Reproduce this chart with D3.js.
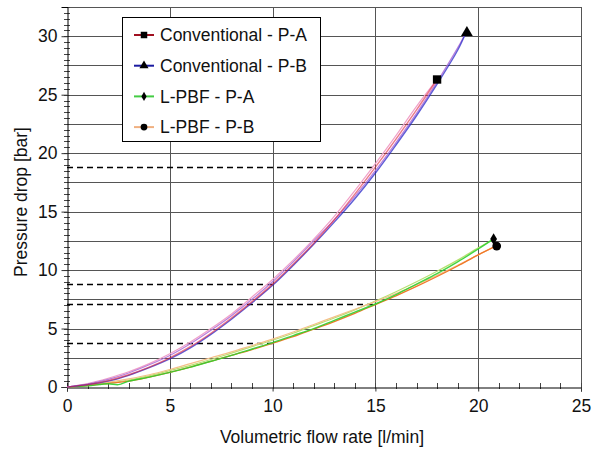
<!DOCTYPE html>
<html><head><meta charset="utf-8">
<script src="https://cdn.jsdelivr.net/npm/d3@7"></script>
<style>body{margin:0;background:#fff}svg{display:block;font-family:"Liberation Sans",Arial,sans-serif}</style>
</head><body><svg id="c" width="594" height="452"></svg>
<script>
// ---- data ----
const xTicks = [0,5,10,15,20,25];
const yTicks = [0,5,10,15,20,25,30];
const flowConvA = [0,1,2,3,4,5,6,7,8,9,10,11,12,13,14,15,16,17,18];
const convPA_up   = [0,0.2,0.55,1.05,1.7,2.5,3.45,4.6,5.9,7.3,8.8,10.5,12.3,14.3,16.5,18.8,21.2,23.7,26.3];
const convPA_down = [0,0.3,0.75,1.3,2.0,2.85,3.85,5.0,6.25,7.7,9.2,10.85,12.65,14.6,16.8,19.1,21.5,24.0,26.3];
const flowConvB = [0,1,2,3,4,5,6,7,8,9,10,11,12,13,14,15,16,17,18,19,19.4];
const convPB_up   = [0,0.2,0.5,1.0,1.65,2.4,3.35,4.5,5.8,7.2,8.7,10.4,12.2,14.1,16.1,18.3,20.7,23.2,25.9,28.8,30.3];
const convPB_down = [0,0.25,0.65,1.2,1.9,2.7,3.7,4.85,6.1,7.5,9.0,10.7,12.5,14.3,16.3,18.5,20.9,23.4,26.1,29.0,30.3];
const flowLA = [0,1,2,2.5,3,4,5,6,7,8,9,10,11,12,13,14,15,16,17,18,19,20,20.7];
const lpbfPA_up   = [0,0.1,0.28,0.2,0.5,0.85,1.25,1.7,2.2,2.7,3.25,3.8,4.4,5.0,5.7,6.4,7.1,7.9,8.8,9.7,10.7,11.8,12.6];
const lpbfPA_down = [0,0.15,0.35,0.45,0.6,0.95,1.4,1.85,2.35,2.9,3.45,4.0,4.6,5.25,5.9,6.6,7.35,8.15,9.0,9.9,10.85,11.9,12.6];
const flowLB = [0,1,2,3,4,5,6,7,8,9,10,11,12,13,14,15,16,17,18,19,20,20.8];
const lpbfPB_up   = [0,0.12,0.3,0.5,0.85,1.25,1.7,2.2,2.7,3.2,3.75,4.3,4.95,5.6,6.3,7.05,7.8,8.6,9.45,10.35,11.3,12.0];
const lpbfPB_down = [0,0.15,0.4,0.7,1.05,1.5,2.0,2.5,3.0,3.55,4.1,4.7,5.35,6.0,6.65,7.3,8.0,8.75,9.55,10.4,11.3,12.0];
const endPoints = [
  {name:"Conventional - P-A", x:18.0, y:26.3, sym:"square", color:"#a01020"},
  {name:"Conventional - P-B", x:19.45, y:30.3, sym:"triangle", color:"#1a1aa0"},
  {name:"L-PBF - P-A", x:20.75, y:12.65, sym:"diamond", color:"#44cc44"},
  {name:"L-PBF - P-B", x:20.9, y:12.05, sym:"circle", color:"#f0b080"}
];
const refLines = [ {y:18.8, x:15}, {y:8.8, x:10}, {y:7.1, x:15}, {y:3.8, x:10} ];

// ---- layout ----
const svg = d3.select("#c");
const L=67, R=581, T=7, B=387;
const x = d3.scaleLinear().domain([0,25]).range([L,R]);
const y = d3.scaleLinear().domain([0,32.5]).range([B,T]);
const px = v=>Math.round(v)+0.5;

// grid
const g = svg.append("g");
g.selectAll(".hg").data(d3.range(2.5,32.51,2.5)).join("line")
  .attr("x1",L).attr("x2",R).attr("y1",d=>px(y(d))).attr("y2",d=>px(y(d)))
  .attr("stroke","#555").attr("stroke-width",1);
g.selectAll(".vg").data(d3.range(5,25.1,5)).join("line")
  .attr("y1",T).attr("y2",B).attr("x1",d=>px(x(d))).attr("x2",d=>px(x(d)))
  .attr("stroke","#555").attr("stroke-width",1);

// minor ticks
g.selectAll(".ym").data(d3.range(0,32.51,0.5)).join("line")
  .attr("x1",L-3).attr("x2",L+3).attr("y1",d=>px(y(d))).attr("y2",d=>px(y(d)))
  .attr("stroke","#444");
g.selectAll(".xm").data(d3.range(0,25.01,1)).join("line")
  .attr("y1",B-4).attr("y2",B+2).attr("x1",d=>px(x(d))).attr("x2",d=>px(x(d)))
  .attr("stroke","#444");

// axes
const ax = svg.append("g").attr("transform",`translate(0,${B+0.5})`)
  .call(d3.axisBottom(x).tickValues(xTicks).tickSize(4).tickPadding(6));
const ay = svg.append("g").attr("transform",`translate(${L+0.5},0)`)
  .call(d3.axisLeft(y).tickValues(yTicks).tickSize(6).tickPadding(4));
[ax,ay].forEach(a=>{a.select(".domain").attr("stroke","#000");
  a.selectAll("text").attr("font-size",17.5).attr("fill","#111").attr("font-family","Liberation Sans, Arial, sans-serif");
  a.selectAll(".tick line").attr("stroke","#333");});
ax.selectAll("text").attr("dy","0.85em");

// dashed reference lines
svg.selectAll(".ref").data(refLines).join("line")
  .attr("x1",L).attr("x2",d=>x(d.x)).attr("y1",d=>px(y(d.y))).attr("y2",d=>px(y(d.y)))
  .attr("stroke","#000").attr("stroke-width",1.3).attr("stroke-dasharray","6,4");

// curves
const mk = (xs,ys)=>xs.map((v,i)=>[v,ys[i]]);
const line = d3.line().x(d=>x(d[0])).y(d=>y(d[1])).curve(d3.curveCatmullRom);
const strands = [
  {d:mk(flowLA,lpbfPA_down), c:"#b8e070", w:1.2, o:1},
  {d:mk(flowLB,lpbfPB_down), c:"#f4c08a", w:1.2, o:1},
  {d:mk(flowLB,lpbfPB_up), c:"#f07828", w:1.3, o:1},
  {d:mk(flowLA,lpbfPA_up), c:"#2ed02e", w:1.4, o:0.9},
  {d:mk(flowConvA,convPA_down), c:"#f0a0c8", w:1.2, o:1},
  {d:mk(flowConvB,convPB_down), c:"#b070d8", w:1.2, o:0.9},
  {d:mk(flowConvB,convPB_up), c:"#2828c8", w:1.4, o:0.75},
  {d:mk(flowConvA,convPA_up), c:"#e0203a", w:1.4, o:0.6}
];
svg.selectAll(".curve").data(strands).join("path")
  .attr("d",d=>line(d.d)).attr("fill","none").attr("stroke",d=>d.c)
  .attr("stroke-width",d=>d.w).attr("stroke-opacity",d=>d.o);

// markers
const symMap = {square:d3.symbolSquare, triangle:d3.symbolTriangle, diamond:d3.symbolDiamond, circle:d3.symbolCircle};
const symSize = {square:70, triangle:60, diamond:40, circle:60};
svg.selectAll(".endm").data(endPoints).join("path")
  .attr("transform",d=>`translate(${x(d.x)},${y(d.y)})`)
  .attr("d",d=>d3.symbol(symMap[d.sym],symSize[d.sym])()).attr("fill","#000");

// legend
const lg = svg.append("g");
lg.append("rect").attr("x",122.5).attr("y",17.5).attr("width",198).attr("height",124)
  .attr("fill","#fff").attr("stroke","#000").attr("stroke-width",1);
const items = lg.selectAll(".li").data(endPoints).join("g")
  .attr("transform",(d,i)=>`translate(0,${35+i*30.7})`);
items.append("line").attr("x1",134).attr("x2",154).attr("stroke",d=>d.color).attr("stroke-width",2);
items.append("path").attr("transform","translate(144,0)")
  .attr("d",d=>d3.symbol(symMap[d.sym],symSize[d.sym]*0.6)()).attr("fill","#000");
items.append("text").attr("x",160).attr("dy","0.35em").attr("font-size",17.5).attr("fill","#111")
  .text(d=>d.name);

// axis titles
svg.append("text").attr("x",(L+R)/2-2).attr("y",443).attr("text-anchor","middle")
  .attr("font-size",17.5).attr("fill","#111").text("Volumetric flow rate [l/min]");
svg.append("text").attr("transform",`translate(27,${(T+B)/2+5}) rotate(-90)`).attr("text-anchor","middle")
  .attr("font-size",17.5).attr("fill","#111").text("Pressure drop [bar]");
</script></body></html>
